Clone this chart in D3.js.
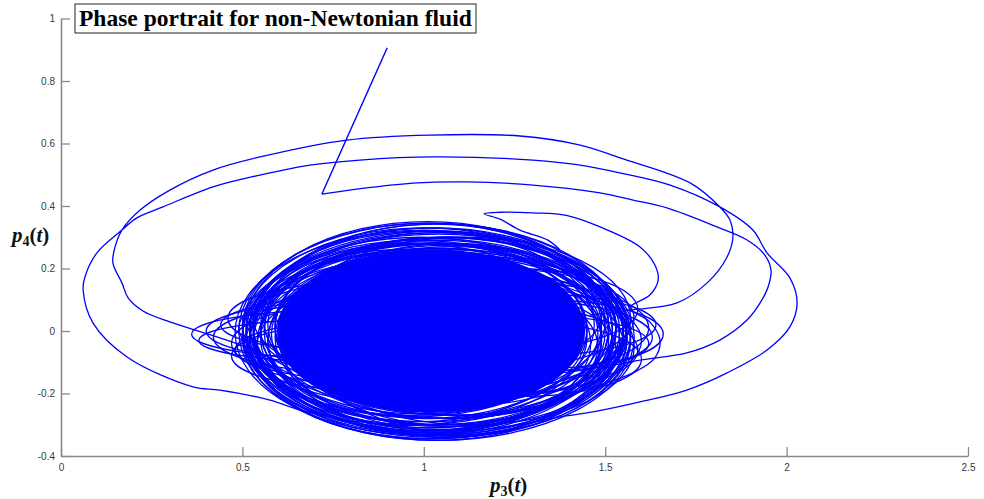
<!DOCTYPE html>
<html>
<head>
<meta charset="utf-8">
<script src="https://cdn.jsdelivr.net/npm/d3@7"></script>
<style>
  html, body { margin: 0; padding: 0; background: #fff; }
  svg { display: block; }
</style>
</head>
<body>
<svg id="chart" width="984" height="499"></svg>
<script>
// ---- axis settings ----
const xTicks = [0, 0.5, 1, 1.5, 2, 2.5];
const yTicks = [-0.4, -0.2, 0, 0.2, 0.4, 0.6, 0.8, 1];
const titleText = "Phase portrait for non-Newtonian fluid";

// ---- transient trajectory (p3, p4) ----
// initial drop from the starting state
const startLeg = [[0.899, 0.906], [0.719, 0.438]];
// first large clockwise sweeps before settling on the attractor
const transient = [
  [0.719, 0.438], [0.843, 0.458], [0.981, 0.474], [1.119, 0.477], [1.301, 0.467],
  [1.486, 0.442], [1.577, 0.419], [1.670, 0.394], [1.808, 0.333], [1.891, 0.291],
  [1.940, 0.243], [1.957, 0.195], [1.949, 0.141], [1.927, 0.090], [1.891, 0.035],
  [1.816, -0.029], [1.725, -0.070], [1.596, -0.093], [1.505, -0.115], [1.375, -0.173],
  [1.210, -0.253], [1.017, -0.300], [0.824, -0.291], [0.659, -0.253], [0.576, -0.221],
  [0.438, -0.189], [0.364, -0.179], [0.182, -0.083], [0.088, 0.026], [0.061, 0.131],
  [0.066, 0.173], [0.099, 0.250], [0.168, 0.323], [0.209, 0.362], [0.281, 0.397],
  [0.419, 0.461], [0.549, 0.499], [0.686, 0.531], [0.824, 0.547], [1.025, 0.557],
  [1.301, 0.547], [1.431, 0.531], [1.541, 0.506], [1.679, 0.467], [1.816, 0.397],
  [1.907, 0.323], [1.946, 0.250], [2.009, 0.170], [2.029, 0.090], [2.009, 0.013],
  [1.946, -0.061], [1.836, -0.134], [1.725, -0.189], [1.596, -0.227], [1.466, -0.259],
  [1.375, -0.275], [1.210, -0.310], [1.017, -0.323], [0.824, -0.253], [0.639, -0.125],
  [0.529, -0.061], [0.438, -0.022], [0.300, 0.029], [0.226, 0.064], [0.185, 0.106],
  [0.168, 0.154], [0.143, 0.218], [0.149, 0.269], [0.168, 0.323], [0.218, 0.387],
  [0.300, 0.451], [0.419, 0.515], [0.549, 0.557], [0.788, 0.611], [1.017, 0.627],
  [1.265, 0.624], [1.431, 0.595], [1.541, 0.554], [1.734, 0.474], [1.816, 0.397],
  [1.844, 0.355], [1.852, 0.301], [1.836, 0.237], [1.781, 0.154], [1.698, 0.090],
  [1.568, 0.067], [1.458, 0.051]
];
// later excursion: hook above the attractor and a loop on its right flank
const excursion = [
  [1.375, 0.260], [1.342, 0.291], [1.265, 0.323], [1.210, 0.358], [1.166, 0.375],
  [1.210, 0.380], [1.301, 0.378], [1.393, 0.370], [1.486, 0.333], [1.596, 0.269],
  [1.637, 0.211], [1.646, 0.163], [1.623, 0.115], [1.568, 0.074], [1.623, 0.029],
  [1.651, -0.029], [1.637, -0.086], [1.582, -0.131], [1.486, -0.173], [1.375, -0.205]
];

// ---- attractor loops: centre p3, centre p4, half-width, half-height ----
const outerLoops = [
  [1.02, 0.00, 0.53, 0.345], [1.03, -0.01, 0.52, 0.340], [1.01, 0.01, 0.51, 0.335],
  [1.04, -0.02, 0.54, 0.330], [1.00, 0.00, 0.50, 0.330], [1.05, -0.01, 0.52, 0.325],
  [1.02, 0.01, 0.49, 0.320], [1.06, -0.02, 0.51, 0.320], [1.03, 0.00, 0.50, 0.315],
  [0.99, -0.01, 0.49, 0.310], [1.04, 0.01, 0.52, 0.310], [1.07, -0.03, 0.50, 0.305],
  [1.01, -0.02, 0.48, 0.300], [1.05, 0.00, 0.49, 0.300], [1.03, -0.03, 0.51, 0.310],
  [1.08, -0.02, 0.48, 0.300], [1.00, 0.02, 0.47, 0.300], [1.02, -0.04, 0.50, 0.305],
  [1.06, 0.01, 0.47, 0.290], [0.98, 0.00, 0.47, 0.290], [1.01, 0.015, 0.50, 0.335],
  [1.04, 0.005, 0.51, 0.338], [1.00, -0.005, 0.52, 0.328], [1.03, 0.012, 0.48, 0.330]
];
const midLoops = [
  [1.02, 0.00, 0.47, 0.28], [1.05, -0.02, 0.46, 0.285], [0.99, 0.01, 0.46, 0.275],
  [1.08, 0.00, 0.45, 0.27], [1.01, -0.03, 0.48, 0.28], [1.04, 0.02, 0.45, 0.27],
  [0.97, -0.01, 0.45, 0.265], [1.10, -0.03, 0.46, 0.275], [1.03, 0.03, 0.47, 0.265],
  [1.06, -0.05, 0.45, 0.28], [0.96, 0.02, 0.44, 0.26], [1.12, -0.01, 0.43, 0.26],
  [1.00, -0.04, 0.46, 0.285], [1.07, 0.01, 0.48, 0.29], [0.98, -0.02, 0.47, 0.28]
];
const innerLoops = [
  [1.05, 0.02, 0.48, 0.26], [0.97, -0.02, 0.46, 0.25], [1.10, 0.00, 0.45, 0.24],
  [1.00, 0.03, 0.44, 0.25], [1.08, -0.04, 0.47, 0.23], [0.95, 0.01, 0.43, 0.22],
  [1.12, 0.02, 0.44, 0.22], [1.03, -0.03, 0.46, 0.27], [0.98, 0.04, 0.45, 0.21],
  [1.14, -0.02, 0.42, 0.20], [0.93, -0.03, 0.42, 0.20], [1.06, 0.05, 0.43, 0.19],
  [1.09, -0.06, 0.44, 0.21], [0.96, 0.00, 0.41, 0.18], [1.16, 0.00, 0.40, 0.19],
  [1.01, -0.05, 0.47, 0.24], [1.11, 0.04, 0.46, 0.26], [0.94, 0.02, 0.44, 0.24],
  [1.07, -0.01, 0.49, 0.27], [1.13, -0.05, 0.45, 0.25]
];
const leftLobes = [
  [0.82, -0.01, 0.46, 0.08], [0.85, 0.00, 0.45, 0.10], [0.80, -0.03, 0.42, 0.07],
  [0.88, -0.02, 0.46, 0.12], [0.84, 0.02, 0.40, 0.09], [0.90, -0.04, 0.43, 0.14],
  [0.86, 0.04, 0.40, 0.12], [0.89, -0.06, 0.41, 0.10], [0.92, 0.01, 0.43, 0.16],
  [0.87, -0.08, 0.40, 0.11]
];
const rightLobes = [
  [1.25, -0.02, 0.38, 0.12], [1.28, 0.02, 0.36, 0.10], [1.22, -0.06, 0.37, 0.14],
  [1.30, -0.04, 0.32, 0.09], [1.20, 0.04, 0.38, 0.16], [1.26, -0.09, 0.34, 0.12],
  [1.24, 0.07, 0.35, 0.13], [1.32, -0.01, 0.34, 0.11], [1.18, -0.03, 0.42, 0.18],
  [1.22, 0.01, 0.40, 0.15]
];
// region saturated by the trajectory
const denseCore = [[1.02, 0.00, 0.425, 0.262]];

// ---- layout ----
const svg = d3.select("#chart");
const x = d3.scaleLinear().domain([0, 2.5]).range([61, 968]);
const y = d3.scaleLinear().domain([-0.4, 1]).range([456, 18.5]);
const blue = "#0000ff";
const lw = 1.3;

// ---- axes (left and bottom only, ticks pointing inward) ----
const axisColor = "#8a8a8a";
const fmt = d => (d === 0 ? "0" : String(+d.toFixed(1)));

const gx = svg.append("g").attr("transform", `translate(0,${y(-0.4)})`)
  .call(d3.axisBottom(x).tickValues(xTicks).tickFormat(fmt).tickSizeInner(-9).tickSizeOuter(0).tickPadding(15));
const gy = svg.append("g").attr("transform", `translate(${x(0)},0)`)
  .call(d3.axisLeft(y).tickValues(yTicks).tickFormat(fmt).tickSizeInner(-9).tickSizeOuter(0).tickPadding(6));

[gx, gy].forEach(g => {
  g.select(".domain").attr("stroke", axisColor).attr("stroke-width", 1.6);
  g.selectAll(".tick line").attr("stroke", axisColor).attr("stroke-width", 1.3);
  g.selectAll(".tick text")
    .attr("fill", "#3a3a3a")
    .style("font-family", "'Liberation Sans', Arial, sans-serif")
    .style("font-size", "10px");
});
gx.selectAll(".tick text").attr("dy", "0");
gy.selectAll(".tick text").attr("x", -6);

// ---- attractor ----
const plot = svg.append("g");

plot.selectAll("ellipse.core").data(denseCore).join("ellipse")
  .attr("class", "core")
  .attr("cx", d => x(d[0])).attr("cy", d => y(d[1]))
  .attr("rx", d => x(d[0] + d[2]) - x(d[0]))
  .attr("ry", d => y(d[1]) - y(d[1] + d[3]))
  .attr("fill", blue);

const loops = [].concat(outerLoops, midLoops, innerLoops, leftLobes, rightLobes);
plot.selectAll("ellipse.loop").data(loops).join("ellipse")
  .attr("class", "loop")
  .attr("cx", d => x(d[0])).attr("cy", d => y(d[1]))
  .attr("rx", d => x(d[0] + d[2]) - x(d[0]))
  .attr("ry", d => y(d[1]) - y(d[1] + d[3]))
  .attr("fill", "none")
  .attr("stroke", blue)
  .attr("stroke-width", lw);

// ---- trajectory paths ----
const straight = d3.line().x(d => x(d[0])).y(d => y(d[1]));
const smooth = d3.line().x(d => x(d[0])).y(d => y(d[1])).curve(d3.curveCatmullRom.alpha(0.5));

plot.append("path").attr("d", straight(startLeg));
plot.append("path").attr("d", smooth(transient));
plot.append("path").attr("d", smooth(excursion));
plot.selectAll("path")
  .attr("fill", "none")
  .attr("stroke", blue)
  .attr("stroke-width", lw)
  .attr("stroke-linejoin", "round");

// ---- axis titles ----
function mathLabel(g, sub) {
  const t = g.append("text")
    .style("font-family", "'Liberation Serif', 'DejaVu Serif', serif")
    .style("font-weight", "bold")
    .style("font-size", "21px")
    .attr("fill", "#111");
  t.append("tspan").style("font-style", "italic").text("p");
  t.append("tspan").attr("dy", 4).style("font-size", "14px").text(sub);
  t.append("tspan").attr("dy", -4).text("(");
  t.append("tspan").style("font-style", "italic").text("t");
  t.append("tspan").text(")");
  return t;
}
mathLabel(svg.append("g").attr("transform", "translate(12,242)"), "4");
mathLabel(svg.append("g").attr("transform", "translate(490,492)"), "3");

// ---- boxed title ----
const tg = svg.append("g");
tg.append("rect")
  .attr("x", 75).attr("y", 4).attr("width", 401).attr("height", 29)
  .attr("fill", "#fff").attr("stroke", "#222").attr("stroke-width", 1);
const title = tg.append("text")
  .attr("x", 79).attr("y", 26)
  .style("font-family", "'Liberation Serif', 'DejaVu Serif', serif")
  .style("font-weight", "bold")
  .style("font-size", "20px")
  .attr("fill", "#000")
  .text(titleText);
const w = title.node().getComputedTextLength();
title.style("font-size", (20 * 393 / w).toFixed(2) + "px");
</script>
</body>
</html>
